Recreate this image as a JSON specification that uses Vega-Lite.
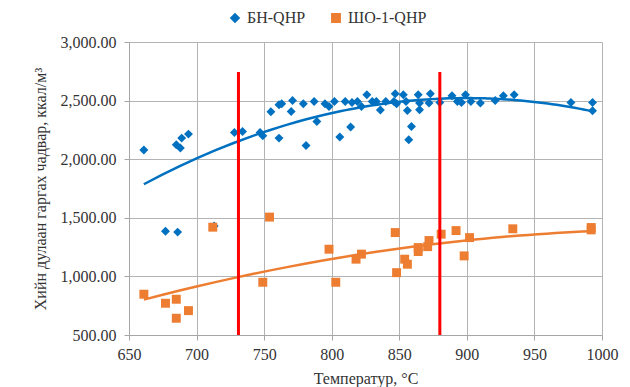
{
  "$schema": "https://vega.github.io/schema/vega-lite/v6.json",
  "autosize": {"type": "none"},
  "width": 473,
  "height": 293,
  "padding": {"left": 129, "top": 42, "right": 28, "bottom": 52},
  "background": "white",
  "config": {
    "font": "Liberation Serif",
    "style": {
      "guide-label": {"font": "Liberation Serif, serif", "fontSize": 16},
      "guide-title": {"font": "Liberation Serif, serif", "fontSize": 16}
    },
    "view": {"stroke": null},
    "axis": {
      "labelFont": "Liberation Serif, serif",
      "titleFont": "Liberation Serif, serif",
      "labelFontSize": 16,
      "titleFontSize": 16,
      "labelColor": "#333333",
      "titleColor": "#333333",
      "titleFontWeight": "normal",
      "gridColor": "#b3b3b3",
      "gridWidth": 1,
      "domainColor": "#a6a6a6",
      "tickColor": "#a6a6a6",
      "tickSize": 5
    },
    "legend": {"labelFont": "Liberation Serif, serif", "labelFontSize": 16, "labelColor": "#333333"}
  },
  "datasets": {
    "pts": [
      {"s": "БН-QHP", "x": 661, "y": 2078},
      {"s": "БН-QHP", "x": 677, "y": 1385},
      {"s": "БН-QHP", "x": 686, "y": 1378},
      {"s": "БН-QHP", "x": 685, "y": 2123},
      {"s": "БН-QHP", "x": 688, "y": 2095},
      {"s": "БН-QHP", "x": 689, "y": 2180},
      {"s": "БН-QHP", "x": 694, "y": 2214},
      {"s": "БН-QHP", "x": 713, "y": 1430},
      {"s": "БН-QHP", "x": 728, "y": 2228},
      {"s": "БН-QHP", "x": 734, "y": 2237},
      {"s": "БН-QHP", "x": 747, "y": 2228},
      {"s": "БН-QHP", "x": 749, "y": 2200},
      {"s": "БН-QHP", "x": 755, "y": 2405},
      {"s": "БН-QHP", "x": 761, "y": 2465},
      {"s": "БН-QHP", "x": 761, "y": 2180},
      {"s": "БН-QHP", "x": 763, "y": 2473},
      {"s": "БН-QHP", "x": 771, "y": 2501},
      {"s": "БН-QHP", "x": 770, "y": 2407},
      {"s": "БН-QHP", "x": 779, "y": 2473},
      {"s": "БН-QHP", "x": 781, "y": 2117},
      {"s": "БН-QHP", "x": 787, "y": 2493},
      {"s": "БН-QHP", "x": 789, "y": 2322},
      {"s": "БН-QHP", "x": 795, "y": 2473},
      {"s": "БН-QHP", "x": 798, "y": 2450},
      {"s": "БН-QHP", "x": 802, "y": 2493},
      {"s": "БН-QHP", "x": 806, "y": 2189},
      {"s": "БН-QHP", "x": 810, "y": 2493},
      {"s": "БН-QHP", "x": 814, "y": 2274},
      {"s": "БН-QHP", "x": 815, "y": 2484},
      {"s": "БН-QHP", "x": 819, "y": 2493},
      {"s": "БН-QHP", "x": 822, "y": 2450},
      {"s": "БН-QHP", "x": 826, "y": 2550},
      {"s": "БН-QHP", "x": 830, "y": 2493},
      {"s": "БН-QHP", "x": 833, "y": 2493},
      {"s": "БН-QHP", "x": 836, "y": 2420},
      {"s": "БН-QHP", "x": 840, "y": 2493},
      {"s": "БН-QHP", "x": 846, "y": 2493},
      {"s": "БН-QHP", "x": 847, "y": 2558},
      {"s": "БН-QHP", "x": 848, "y": 2473},
      {"s": "БН-QHP", "x": 853, "y": 2550},
      {"s": "БН-QHP", "x": 855, "y": 2493},
      {"s": "БН-QHP", "x": 856, "y": 2416},
      {"s": "БН-QHP", "x": 859, "y": 2279},
      {"s": "БН-QHP", "x": 857, "y": 2166},
      {"s": "БН-QHP", "x": 864, "y": 2550},
      {"s": "БН-QHP", "x": 865, "y": 2479},
      {"s": "БН-QHP", "x": 865, "y": 2422},
      {"s": "БН-QHP", "x": 873, "y": 2558},
      {"s": "БН-QHP", "x": 872, "y": 2479},
      {"s": "БН-QHP", "x": 880, "y": 2484},
      {"s": "БН-QHP", "x": 889, "y": 2541},
      {"s": "БН-QHP", "x": 893, "y": 2493},
      {"s": "БН-QHP", "x": 896, "y": 2484},
      {"s": "БН-QHP", "x": 899, "y": 2550},
      {"s": "БН-QHP", "x": 903, "y": 2493},
      {"s": "БН-QHP", "x": 910, "y": 2479},
      {"s": "БН-QHP", "x": 921, "y": 2501},
      {"s": "БН-QHP", "x": 927, "y": 2541},
      {"s": "БН-QHP", "x": 935, "y": 2550},
      {"s": "БН-QHP", "x": 977, "y": 2484},
      {"s": "БН-QHP", "x": 993, "y": 2484},
      {"s": "БН-QHP", "x": 993, "y": 2413},
      {"s": "ШО-1-QHP", "x": 661, "y": 848},
      {"s": "ШО-1-QHP", "x": 677, "y": 771},
      {"s": "ШО-1-QHP", "x": 685, "y": 805},
      {"s": "ШО-1-QHP", "x": 685, "y": 643},
      {"s": "ШО-1-QHP", "x": 694, "y": 708},
      {"s": "ШО-1-QHP", "x": 712, "y": 1420},
      {"s": "ШО-1-QHP", "x": 754, "y": 1506},
      {"s": "ШО-1-QHP", "x": 749, "y": 950},
      {"s": "ШО-1-QHP", "x": 798, "y": 1232},
      {"s": "ШО-1-QHP", "x": 803, "y": 950},
      {"s": "ШО-1-QHP", "x": 818, "y": 1147},
      {"s": "ШО-1-QHP", "x": 822, "y": 1190},
      {"s": "ШО-1-QHP", "x": 847, "y": 1374},
      {"s": "ШО-1-QHP", "x": 848, "y": 1032},
      {"s": "ШО-1-QHP", "x": 854, "y": 1147},
      {"s": "ШО-1-QHP", "x": 856, "y": 1104},
      {"s": "ШО-1-QHP", "x": 864, "y": 1212},
      {"s": "ШО-1-QHP", "x": 864, "y": 1246},
      {"s": "ШО-1-QHP", "x": 871, "y": 1254},
      {"s": "ШО-1-QHP", "x": 872, "y": 1306},
      {"s": "ШО-1-QHP", "x": 881, "y": 1360},
      {"s": "ШО-1-QHP", "x": 892, "y": 1391},
      {"s": "ШО-1-QHP", "x": 898, "y": 1175},
      {"s": "ШО-1-QHP", "x": 902, "y": 1331},
      {"s": "ШО-1-QHP", "x": 934, "y": 1406},
      {"s": "ШО-1-QHP", "x": 992, "y": 1417},
      {"s": "ШО-1-QHP", "x": 992, "y": 1397}
    ],
    "redlines": [
      {"x": 731, "y": 2745, "y2": 500},
      {"x": 880, "y": 2745, "y2": 500}
    ]
  },
  "layer": [
    {
      "data": {"name": "pts"},
      "mark": {"type": "point", "filled": true, "opacity": 1},
      "encoding": {
        "x": {
          "field": "x", "type": "quantitative",
          "scale": {"domain": [650, 1000], "nice": false, "zero": false},
          "axis": {"title": "Температур, °C", "format": "d", "labelFlush": false, "labelFont": "Liberation Serif, serif", "titleFont": "Liberation Serif, serif", "values": [650, 700, 750, 800, 850, 900, 950, 1000], "labelPadding": 6, "titlePadding": 8}
        },
        "y": {
          "field": "y", "type": "quantitative",
          "scale": {"domain": [500, 3000], "nice": false, "zero": false},
          "axis": {"title": "Хийн дулаан гаргах чадвар, ккал/м³", "labelFlush": false, "labelFont": "Liberation Serif, serif", "titleFont": "Liberation Serif, serif", "values": [500, 1000, 1500, 2000, 2500, 3000], "format": ",.2f", "labelPadding": 8, "titlePadding": 12}
        },
        "color": {
          "field": "s", "type": "nominal",
          "scale": {"domain": ["БН-QHP", "ШО-1-QHP"], "range": ["#0070C0", "#ED7D31"]},
          "legend": {"title": null, "orient": "none", "direction": "horizontal", "legendX": 98, "legendY": -32, "symbolSize": 70, "columnPadding": 22, "labelOffset": 4, "labelFont": "Liberation Serif, serif", "labelFontSize": 16}
        },
        "shape": {
          "field": "s", "type": "nominal",
          "scale": {"domain": ["БН-QHP", "ШО-1-QHP"], "range": ["diamond", "square"]},
          "legend": {"title": null, "orient": "none", "direction": "horizontal", "legendX": 98, "legendY": -32, "symbolSize": 70, "columnPadding": 22, "labelOffset": 4, "labelFont": "Liberation Serif, serif", "labelFontSize": 16}
        },
        "size": {"value": 80}
      }
    },
    {
      "data": {"name": "pts"},
      "transform": [
        {"regression": "y", "on": "x", "groupby": ["s"], "method": "poly", "order": 2}
      ],
      "mark": {"type": "line", "strokeWidth": 2.5},
      "encoding": {
        "x": {"field": "x", "type": "quantitative"},
        "y": {"field": "y", "type": "quantitative"},
        "color": {"field": "s", "type": "nominal", "legend": null}
      }
    },
    {
      "data": {"name": "redlines"},
      "mark": {"type": "rule", "color": "#FF0000", "strokeWidth": 3},
      "encoding": {
        "x": {"field": "x", "type": "quantitative"},
        "y": {"field": "y", "type": "quantitative"},
        "y2": {"field": "y2"}
      }
    }
  ]
}
